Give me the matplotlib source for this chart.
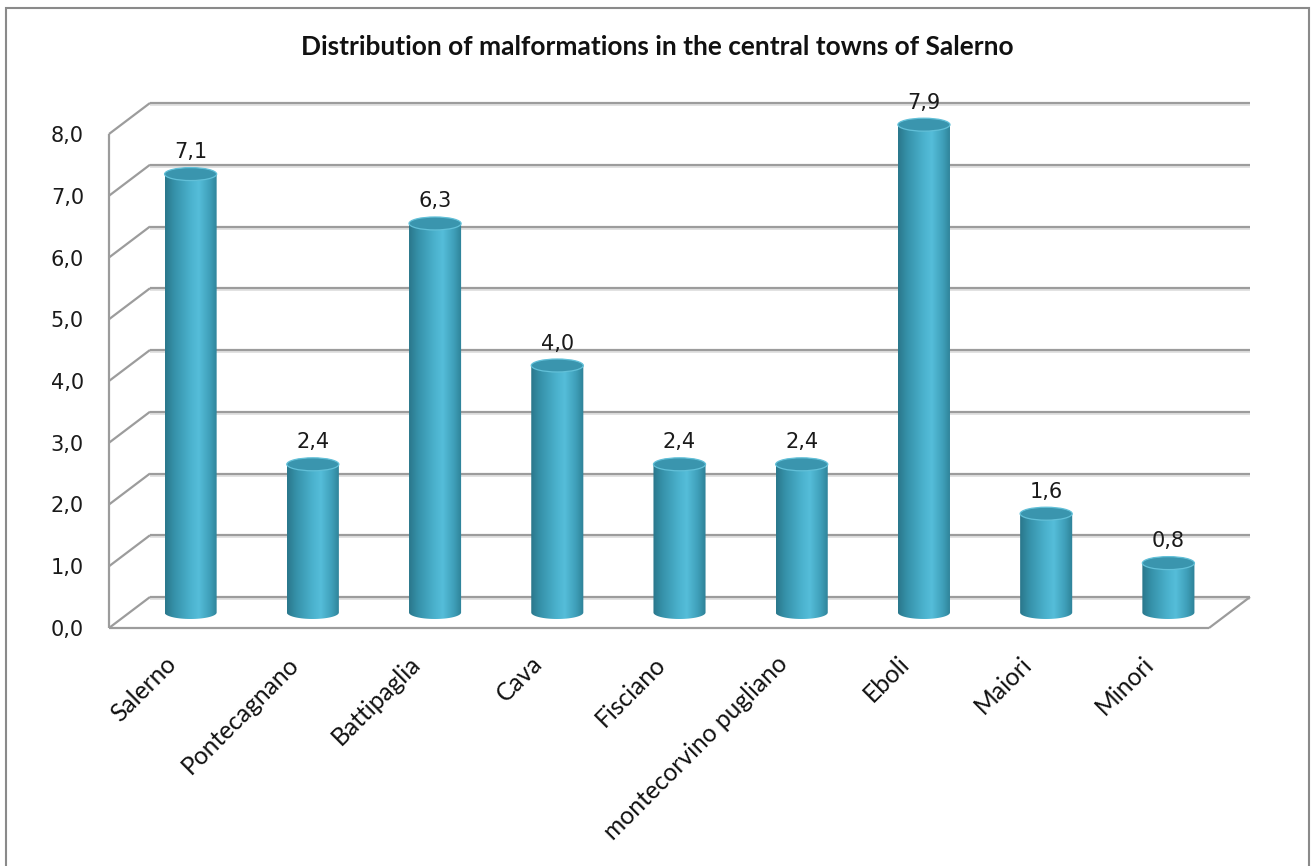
import numpy as np
import matplotlib
matplotlib.use("Agg")
import matplotlib.pyplot as plt
from matplotlib.colors import LinearSegmentedColormap
from matplotlib.patches import Ellipse, PathPatch, Rectangle
from matplotlib.path import Path
from matplotlib.transforms import ScaledTranslation

towns = ["Salerno", "Pontecagnano", "Battipaglia", "Cava", "Fisciano",
         "montecorvino pugliano", "Eboli", "Maiori", "Minori"]
rates = [7.1, 2.4, 6.3, 4.0, 2.4, 2.4, 7.9, 1.6, 0.8]
y_ticks = [0, 1, 2, 3, 4, 5, 6, 7, 8]

TITLE = "Distribution of malformations in the central towns of Salerno"
W, H = 1311, 866
DPI = 100

# depth of the fake 3d box, in pixels
DEPTH_X, DEPTH_Y = 41, 31
GRID = "#9c9c9c"
# axes run a bit above the top tick so the tall cylinders are not cut off
Y_TOP = 9.0

body_cmap = LinearSegmentedColormap.from_list(
    "cyl", [(0.0, "#2a778b"), (0.18, "#3692aa"), (0.5, "#4cb3cf"),
            (0.64, "#55bdd9"), (0.85, "#3f9fb9"), (1.0, "#2d8096")])


def fmt(v):
    return "{:.1f}".format(v).replace(".", ",")


fig = plt.figure(figsize=(W / DPI, H / DPI), dpi=DPI)
ax = fig.add_axes([109 / W, (H - 628) / H, 1100 / W,
                   494 / 8 * Y_TOP / H])
ax.set_xlim(-0.5, len(towns) - 0.5)
ax.set_ylim(0, Y_TOP)


def shift(px, py, base=None):
    base = ax.transData if base is None else base
    return base + ScaledTranslation(px / DPI, py / DPI, fig.dpi_scale_trans)


back = shift(DEPTH_X, DEPTH_Y)
mid = shift(DEPTH_X / 2, DEPTH_Y / 2)
front = ax.transData
x0, x1 = -0.5, len(towns) - 0.5


def line(xs, ys, tr, **kw):
    kw.setdefault("color", GRID)
    kw.setdefault("lw", 1.6)
    kw.setdefault("zorder", 1)
    ax.plot(xs, ys, transform=tr, clip_on=False, solid_capstyle="butt", **kw)


# back wall and left wall grid
for t in y_ticks:
    line([x0, x1], [t, t], shift(DEPTH_X, DEPTH_Y - 2), color="#dddddd",
         lw=1.2, zorder=0.5)
    line([x0, x1], [t, t], back)
    # diagonal from the front axis to the back wall
    p0 = front.transform((x0, t))
    p1 = back.transform((x0, t))
    line([p0[0], p1[0]], [p0[1], p1[1]], None)

# front axis and floor edges
line([x0, x0], [0, y_ticks[-1]], front)
line([x0, x1], [0, 0], front)
q0 = front.transform((x1, 0))
q1 = back.transform((x1, 0))
line([q0[0], q1[0]], [q0[1], q1[1]], None)

# cylinders
half_w = 0.213
ell_h = 0.105
grad = np.linspace(0, 1, 256).reshape(1, -1)
for i, v in enumerate(rates):
    t = np.linspace(0, -np.pi, 40)
    verts = [(i - half_w, v), (i + half_w, v)]
    verts += list(zip(i + half_w * np.cos(t), ell_h * np.sin(t)))
    verts += [(i - half_w, v)]
    clip = PathPatch(Path(verts), transform=mid, facecolor="none",
                     edgecolor="none", clip_on=False)
    ax.add_patch(clip)
    im = ax.imshow(grad, cmap=body_cmap, extent=[i - half_w, i + half_w,
                                                 -ell_h, v],
                   aspect="auto", interpolation="bilinear",
                   transform=mid, zorder=3)
    im.set_clip_path(clip)
    ax.add_patch(Ellipse((i, v), 2 * half_w, 2 * ell_h, transform=mid,
                         facecolor="#3a95ae", edgecolor="#62c0d8",
                         lw=0.9, zorder=4, clip_on=False))
    ax.text(i, v, fmt(v), transform=shift(0, 22, mid), ha="center",
            va="center", fontsize=15, family="DejaVu Sans",
            color="#1a1a1a", zorder=5, clip_on=False)

    # category label
    ax.text(i, 0, towns[i], transform=shift(-6, -24), rotation=45,
            rotation_mode="anchor", ha="right", va="top",
            fontsize=17.7, family="Lato", color="#111111", clip_on=False)

ax.set_xlim(x0, x1)
ax.set_ylim(0, Y_TOP)
ax.set_xticks([])
ax.set_yticks(y_ticks)
ax.set_yticklabels([fmt(t) for t in y_ticks], family="DejaVu Sans",
                   fontsize=15, color="#1a1a1a")
ax.tick_params(axis="y", length=0, pad=18)
for s in ax.spines.values():
    s.set_visible(False)
ax.patch.set_alpha(0)

fig.text(657 / W, 1 - 47 / H, TITLE, ha="center", va="center",
         fontsize=18.9, fontweight="bold", family="Lato", color="#111111")

fig.patches.append(Rectangle((6 / W, -0.01), (1309 - 6) / W,
                             (H - 8) / H + 0.01, transform=fig.transFigure,
                             facecolor="none", edgecolor="#8a8a8a", lw=1.5))

fig.savefig("out.png", dpi=DPI)
